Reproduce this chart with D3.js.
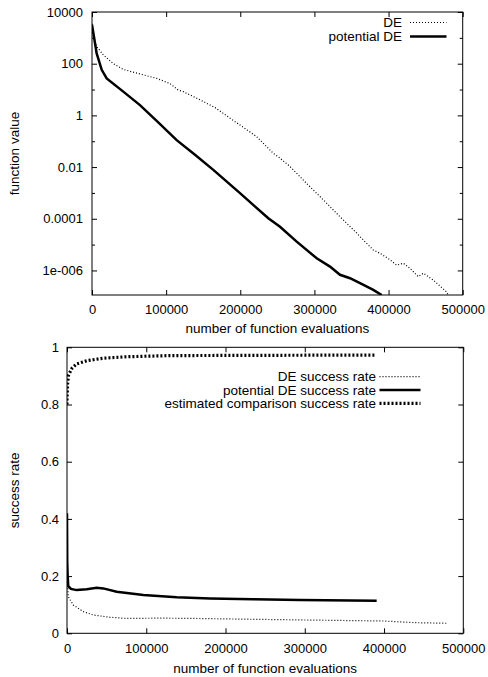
<!DOCTYPE html>
<html>
<head>
<meta charset="utf-8">
<script src="https://cdn.jsdelivr.net/npm/d3@7"></script>
<style>
  body { margin: 0; background: #fff; }
  svg { display: block; font-family: "Liberation Sans", Arial, sans-serif; }
  .tick text { font-size: 13px; fill: #000; }
  .tick line { stroke: #000; }
  .lbl { font-size: 13.5px; fill: #000; }
</style>
</head>
<body>
<svg width="488" height="677"></svg>
<script>
// ---- data: function value vs evaluations (top) ----
var deEvals = [0, 900, 6300, 15200, 28700, 42200, 64700, 87300, 105200, 116400, 123100, 145700, 165900, 186100,
    208700, 222100, 244500, 251300, 267100, 289600, 312000, 334500, 357000, 366000, 379400, 388500, 401900,
    411000, 420000, 429000, 440000, 447000, 460000, 478000, 480600];
var deValues = [3500, 1700, 460, 220, 100, 60, 40, 27, 17, 9.5, 8.3, 4.0, 2.0, 0.78,
    0.28, 0.15, 0.034, 0.025, 0.0105, 2.3e-3, 5.4e-4, 1.2e-4, 2.8e-5, 1.5e-5, 6.2e-6, 4.6e-6, 2.6e-6,
    1.6e-6, 1.9e-6, 1.2e-6, 5.8e-7, 7.8e-7, 4.3e-7, 1.5e-7, 1.1e-7];

var potEvals = [0, 6300, 13100, 19800, 42200, 64700, 89000, 114200, 138900, 163600, 199600, 237800,
    253600, 276100, 303100, 321000, 334500, 348000, 361500, 379400, 390700];
var potValues = [3200, 250, 58, 27, 8.3, 2.5, 0.55, 0.11, 0.030, 7.8e-3, 9.8e-4, 1.05e-4,
    4.9e-5, 1.3e-5, 2.95e-6, 1.41e-6, 6.8e-7, 5.0e-7, 3.2e-7, 1.78e-7, 1.12e-7];

var topYTicks = [1e4, 100, 1, 0.01, 1e-4, 1e-6];
var topYLabels = ["10000", "100", "1", "0.01", "0.0001", "1e-006"];
var topYMinor = [1e3, 10, 0.1, 1e-3, 1e-5];

// ---- data: success rate vs evaluations (bottom) ----
var deRateEvals = [0, 1600, 7900, 20500, 33100, 54300, 75300, 117300, 159400, 235000, 315000, 399000, 441000, 481000];
var deRate = [0.21, 0.128, 0.099, 0.076, 0.064, 0.056, 0.052, 0.053, 0.052, 0.049, 0.046, 0.043, 0.037, 0.035];

var potRateEvals = [0, 300, 800, 1600, 5000, 12200, 24900, 37500, 45800, 62700, 96300, 138400, 180400, 235000, 294000, 390700];
var potRate = [0.42, 0.25, 0.204, 0.165, 0.155, 0.151, 0.154, 0.159, 0.157, 0.145, 0.134, 0.126, 0.122, 0.119, 0.116, 0.114];

var cmpRateEvals = [0, 0, 800, 2000, 6300, 12200, 24900, 45800, 75300, 130000, 390000];
var cmpRate = [0.80, 0.816, 0.874, 0.903, 0.927, 0.942, 0.953, 0.962, 0.967, 0.971, 0.973];

var xTicks = [0, 100000, 200000, 300000, 400000, 500000];
var rateTicks = [0, 0.2, 0.4, 0.6, 0.8, 1];

var svg = d3.select("svg");

var styles = {
    de: { w: 1.2, dash: "1,2" },
    pot: { w: 2.5, dash: null },
    cmp: { w: 3.2, dash: "2,2" }
};

function zip(xs, ys) {
    return xs.map(function(x, i) { return [x, ys[i]]; });
}

function panel(box, yScaleType, yDomain, id) {
    var g = svg.append("g");
    var x = d3.scaleLinear().domain([0, 500000]).range([box.l, box.r]);
    var y = (yScaleType == "log" ? d3.scaleLog() : d3.scaleLinear()).domain(yDomain).range([box.b, box.t]);

    g.append("clipPath").attr("id", id)
        .append("rect").attr("x", box.l).attr("y", box.t)
        .attr("width", box.r - box.l).attr("height", box.b - box.t);

    return { g: g, x: x, y: y, box: box, clip: "url(#" + id + ")" };
}

function drawAxes(p, yTicks, yLabels, yMinor, padL) {
    var g = p.g, b = p.box;
    // bottom + top
    g.append("g").attr("transform", "translate(0," + b.b + ")")
        .call(d3.axisBottom(p.x).tickValues(xTicks).tickSize(-5).tickPadding(10).tickFormat(d3.format("d")))
        .call(function(a) { a.select(".domain").remove(); });
    g.append("g").attr("transform", "translate(0," + b.t + ")")
        .call(d3.axisTop(p.x).tickValues(xTicks).tickSize(-5).tickFormat(""))
        .call(function(a) { a.select(".domain").remove(); });
    // left + right
    g.append("g").attr("transform", "translate(" + b.l + ",0)")
        .call(d3.axisLeft(p.y).tickValues(yTicks).tickSize(-5).tickPadding(padL)
            .tickFormat(function(d, i) { return yLabels[i]; }))
        .call(function(a) { a.select(".domain").remove(); });
    g.append("g").attr("transform", "translate(" + b.r + ",0)")
        .call(d3.axisRight(p.y).tickValues(yTicks).tickSize(-5).tickFormat(""))
        .call(function(a) { a.select(".domain").remove(); });
    if (yMinor) {
        g.append("g").attr("transform", "translate(" + b.l + ",0)")
            .call(d3.axisLeft(p.y).tickValues(yMinor).tickSize(-3).tickFormat(""))
            .call(function(a) { a.select(".domain").remove(); });
        g.append("g").attr("transform", "translate(" + b.r + ",0)")
            .call(d3.axisRight(p.y).tickValues(yMinor).tickSize(-3).tickFormat(""))
            .call(function(a) { a.select(".domain").remove(); });
    }
    g.selectAll("g").attr("font-family", null).attr("font-size", null);
    g.append("rect").attr("x", b.l).attr("y", b.t)
        .attr("width", b.r - b.l).attr("height", b.b - b.t)
        .attr("fill", "none").attr("stroke", "#000").attr("stroke-width", 1);
}

function drawSeries(p, data, st) {
    var line = d3.line().x(function(d) { return p.x(d[0]); }).y(function(d) { return p.y(d[1]); });
    p.g.append("path").datum(data)
        .attr("clip-path", p.clip)
        .attr("fill", "none").attr("stroke", "#000")
        .attr("stroke-width", st.w)
        .attr("stroke-dasharray", st.dash)
        .attr("d", line);
}

function legend(p, items, xText, x1, x2, y0, dy) {
    items.forEach(function(it, i) {
        var yy = y0 + i * dy;
        p.g.append("text").attr("class", "lbl").attr("x", xText).attr("y", yy + 4.5)
            .attr("text-anchor", "end").text(it.name);
        p.g.append("line").attr("x1", x1).attr("x2", x2).attr("y1", yy).attr("y2", yy)
            .attr("stroke", "#000").attr("stroke-width", it.st.w)
            .attr("stroke-dasharray", it.st.dash);
    });
}

// ---- top panel ----
var topP = panel({ l: 92, r: 462.7, t: 12, b: 295 }, "log", [Math.pow(10, -6.95), 1e4], "clipTop");
drawAxes(topP, topYTicks, topYLabels, topYMinor, 9);
drawSeries(topP, zip(deEvals, deValues), styles.de);
drawSeries(topP, zip(potEvals, potValues), styles.pot);
legend(topP, [{ name: "DE", st: styles.de }, { name: "potential DE", st: styles.pot }], 402, 410, 446.5, 22.5, 14);

svg.append("text").attr("class", "lbl").attr("x", (92 + 462.7) / 2).attr("y", 333)
    .attr("text-anchor", "middle").text("number of function evaluations");
svg.append("text").attr("class", "lbl")
    .attr("transform", "translate(19," + ((12 + 295) / 2) + ") rotate(-90)")
    .attr("text-anchor", "middle").text("function value");

// ---- bottom panel ----
var botP = panel({ l: 67, r: 463.3, t: 347.3, b: 633.3 }, "linear", [0, 1], "clipBot");
drawAxes(botP, rateTicks, rateTicks.map(String), null, 8);
drawSeries(botP, zip(deRateEvals, deRate), styles.de);
drawSeries(botP, zip(potRateEvals, potRate), styles.pot);
drawSeries(botP, zip(cmpRateEvals, cmpRate), styles.cmp);
legend(botP, [
    { name: "DE success rate", st: styles.de },
    { name: "potential DE success rate", st: styles.pot },
    { name: "estimated comparison success rate", st: styles.cmp }
], 376, 379.5, 420.5, 376.7, 13.3);

svg.append("text").attr("class", "lbl").attr("x", (67 + 463.3) / 2).attr("y", 673)
    .attr("text-anchor", "middle").text("number of function evaluations");
svg.append("text").attr("class", "lbl")
    .attr("transform", "translate(19," + ((347.3 + 633.3) / 2) + ") rotate(-90)")
    .attr("text-anchor", "middle").text("success rate");
</script>
</body>
</html>
